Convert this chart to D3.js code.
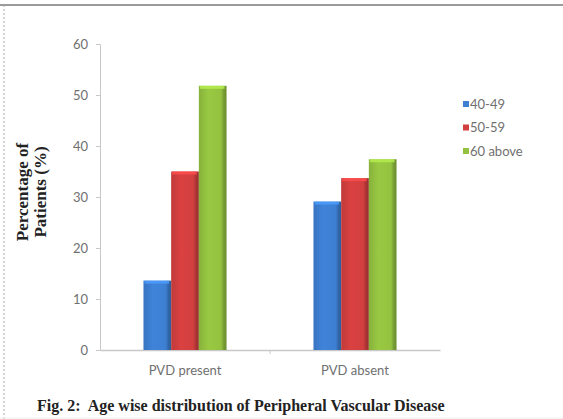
<!DOCTYPE html>
<html>
<head>
<meta charset="utf-8">
<script src="https://cdn.jsdelivr.net/npm/d3@7"></script>
<style>
  html, body { margin: 0; padding: 0; background: #fff; }
  svg { display: block; }
</style>
</head>
<body>
<svg id="chart" width="563" height="419"></svg>
<script>
// Age groups (series) and PVD status (categories)
const categories = ["PVD present", "PVD absent"];
const ageGroups = ["40-49", "50-59", "60 above"];
const values4049 = [13.6, 29.1];
const values5059 = [35.0, 33.7];
const values60up = [51.8, 37.4];
const yTicks = [0, 10, 20, 30, 40, 50, 60];
const seriesColors = ["#3d7fd2", "#d23f3f", "#94c240"];

const seriesValues = [values4049, values5059, values60up];

const svg = d3.select("#chart");
const W = 563, H = 419;
const plot = { left: 100, right: 440, top: 44, bottom: 350 };

// Frame of the figure
svg.append("line").attr("x1", 0).attr("x2", W).attr("y1", 5).attr("y2", 5)
  .attr("stroke", "#9a9a9a").attr("stroke-width", 2);
svg.append("line").attr("x1", 4).attr("x2", 4).attr("y1", 5).attr("y2", H)
  .attr("stroke", "#a8a8a8").attr("stroke-width", 1).attr("stroke-dasharray", "2,2");
svg.append("line").attr("x1", 0).attr("x2", W).attr("y1", H - 1).attr("y2", H - 1)
  .attr("stroke", "#eeeeee").attr("stroke-width", 1);

// Scales
const x0 = d3.scaleBand().domain(categories).range([plot.left, plot.right]).padding(0);
const x1 = d3.scaleBand().domain(ageGroups).range([0, x0.bandwidth()])
  .paddingInner(0).paddingOuter(1.57);
const y = d3.scaleLinear().domain([0, 60]).range([plot.bottom, plot.top]);

// Bar gradients: shaded body, lighter cap
const defs = svg.append("defs");
seriesColors.forEach((c, i) => {
  const base = d3.color(c);
  const g = defs.append("linearGradient").attr("id", "grad" + i)
    .attr("x1", "0%").attr("x2", "100%").attr("y1", "0%").attr("y2", "0%");
  g.append("stop").attr("offset", "0%").attr("stop-color", base.darker(0.25));
  g.append("stop").attr("offset", "35%").attr("stop-color", base.brighter(0.1));
  g.append("stop").attr("offset", "80%").attr("stop-color", base);
  g.append("stop").attr("offset", "90%").attr("stop-color", base.darker(0.6));
  g.append("stop").attr("offset", "100%").attr("stop-color", base.darker(0.9));
});

// Y axis
const yAxis = d3.axisLeft(y).tickValues(yTicks).tickSize(4).tickPadding(8);
const ya = svg.append("g").attr("transform", `translate(${plot.left},0)`).call(yAxis);
ya.select(".domain").attr("stroke", "#c8c8c8");
ya.selectAll(".tick line").attr("stroke", "#c8c8c8");
ya.selectAll(".tick text").attr("fill", "#707070")
  .style("font-family", "Lato, 'Open Sans', sans-serif").style("font-size", "13px");

// X axis
const xAxis = d3.axisBottom(x0).tickSize(0).tickPadding(16);
const xa = svg.append("g").attr("transform", `translate(0,${plot.bottom})`).call(xAxis);
xa.select(".domain").attr("stroke", "#c8c8c8").attr("stroke-width", 1.5);
xa.selectAll(".tick text").attr("fill", "#707070")
  .style("font-family", "Lato, 'Open Sans', sans-serif").style("font-size", "13px");
// Divider tick between categories
svg.append("line")
  .attr("x1", x0(categories[1])).attr("x2", x0(categories[1]))
  .attr("y1", plot.bottom).attr("y2", plot.bottom + 4)
  .attr("stroke", "#c8c8c8");

// Bars
const groups = svg.append("g").selectAll("g")
  .data(categories).join("g")
  .attr("transform", d => `translate(${x0(d)},0)`);

groups.each(function(cat, ci) {
  const g = d3.select(this);
  ageGroups.forEach((ag, si) => {
    const v = seriesValues[si][ci];
    const bx = x1(ag), bw = x1.bandwidth();
    g.append("rect")
      .attr("x", bx).attr("y", y(v))
      .attr("width", bw).attr("height", y(0) - y(v))
      .attr("fill", `url(#grad${si})`);
    // lighter cap on top of each bar
    g.append("rect")
      .attr("x", bx + 1).attr("y", y(v))
      .attr("width", bw - 3).attr("height", 3)
      .attr("fill", d3.color(seriesColors[si]).brighter(0.6))
      .attr("opacity", 0.8);
  });
});

// Y-axis title (two lines)
const yTitle = svg.append("text")
  .attr("transform", "translate(28,192) rotate(-90)")
  .attr("text-anchor", "middle")
  .style("font-family", "'Liberation Serif', 'Times New Roman', serif")
  .style("font-weight", "bold").style("font-size", "17px").attr("fill", "#222");
yTitle.append("tspan").attr("x", 0).attr("dy", 0).text("Percentage of");
yTitle.append("tspan").attr("x", 0).attr("dy", 18).text("Patients (%)");

// Legend
const legend = svg.append("g").attr("transform", "translate(463,104)");
ageGroups.forEach((ag, i) => {
  const row = legend.append("g").attr("transform", `translate(0,${i * 23.5})`);
  row.append("rect").attr("x", 0).attr("y", -3).attr("width", 6).attr("height", 6)
    .attr("fill", seriesColors[i]);
  row.append("text").attr("x", 7).attr("y", 0).attr("dy", "0.35em")
    .attr("fill", "#707070")
    .style("font-family", "Lato, 'Open Sans', sans-serif").style("font-size", "13px")
    .text(ag);
});

// Caption
svg.append("text")
  .attr("x", 37).attr("y", 411)
  .style("font-family", "'Liberation Serif', 'Times New Roman', serif")
  .style("font-weight", "bold").style("font-size", "16px").attr("fill", "#222")
  .attr("xml:space", "preserve")
  .text("Fig. 2:  Age wise distribution of Peripheral Vascular Disease");
</script>
</body>
</html>
